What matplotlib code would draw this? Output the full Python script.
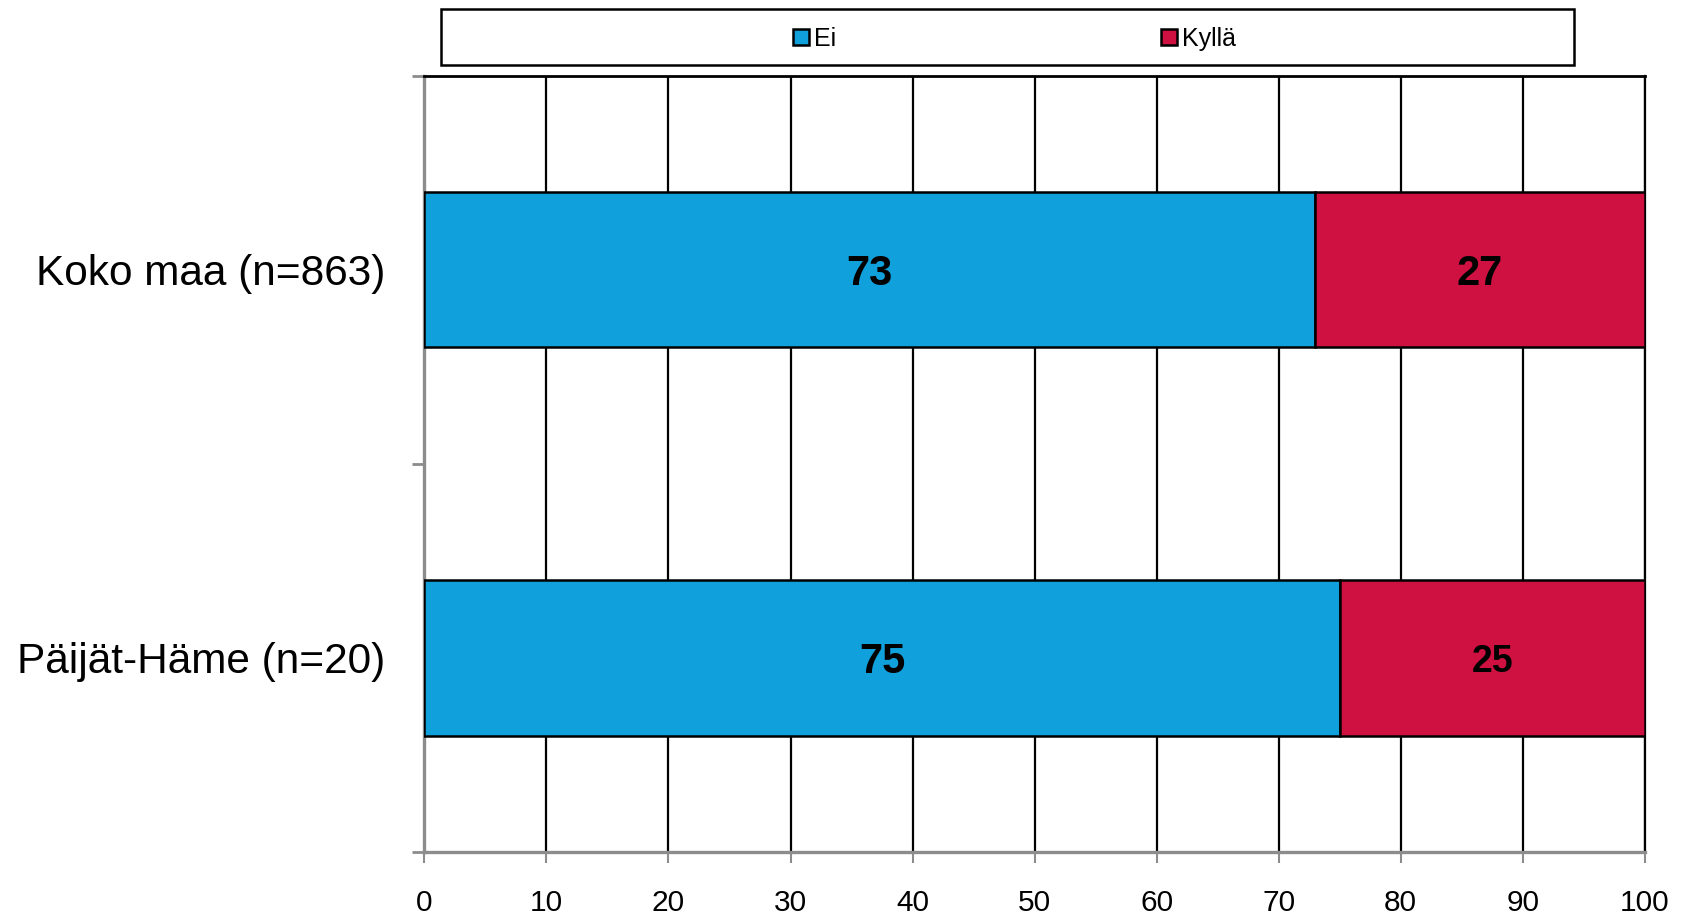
import matplotlib
matplotlib.use("Agg")
import matplotlib.pyplot as plt
from matplotlib.patches import Rectangle
from matplotlib import ticker

categories = ["Päijät-Häme (n=20)", "Koko maa (n=863)"]
series_names = ["Ei", "Kyllä"]
ei_values = [75, 73]
kylla_values = [25, 27]
x_ticks = [0, 10, 20, 30, 40, 50, 60, 70, 80, 90, 100]

blue = "#10A0DB"
red = "#CE1141"
grey = "#8C8C8C"

plt.rcParams["font.family"] = ["Liberation Sans", "DejaVu Sans"]

fig = plt.figure(figsize=(16.91, 9.24), dpi=100)
ax = fig.add_axes([0.251, 0.078, 0.7216, 0.840])

pos = list(range(len(categories)))
bars_ei = ax.barh(pos, ei_values, height=0.4, color=blue, edgecolor="black",
                  linewidth=1.8, label=series_names[0], zorder=3)
bars_ky = ax.barh(pos, kylla_values, left=ei_values, height=0.4, color=red,
                  edgecolor="black", linewidth=1.8, label=series_names[1], zorder=3)

# value labels in the middle of each segment
for i in pos:
    ax.text(ei_values[i] / 2, i, str(ei_values[i]), ha="center",
            va="center_baseline", fontsize=30, fontweight="bold", zorder=4)
    ax.text(ei_values[i] + kylla_values[i] / 2, i, str(kylla_values[i]),
            ha="center", va="center_baseline", fontsize=27 if i == 0 else 30,
            fontweight="bold", zorder=4)

ax.set_xlim(0, 100)
ax.set_ylim(-0.5, 1.5)

# vertical gridlines
for x in x_ticks[1:]:
    ax.axvline(x, color="black", linewidth=1.6, zorder=1)

ax.set_xticks(x_ticks)
ax.set_xticklabels([str(x) for x in x_ticks], fontsize=21.5)
ax.tick_params(axis="x", direction="out", length=8, width=1.5, color=grey, pad=19)

ax.set_yticks(pos)
ax.set_yticklabels(categories, fontsize=30.5)
ax.tick_params(axis="y", which="major", length=0, pad=28)
ax.yaxis.set_minor_locator(ticker.FixedLocator([-0.5, 0.5, 1.5]))
ax.tick_params(axis="y", which="minor", direction="out", length=9, width=2, color=grey)

for side in ["left", "bottom"]:
    ax.spines[side].set_color(grey)
    ax.spines[side].set_linewidth(2.4)
ax.spines["top"].set_color("black")
ax.spines["top"].set_linewidth(2)
ax.spines["right"].set_color("black")
ax.spines["right"].set_linewidth(1.6)

# legend box across the top
box = Rectangle((0.261, 0.9296), 0.670, 0.061, transform=fig.transFigure,
                facecolor="white", edgecolor="black", linewidth=1.8)
fig.patches.append(box)
fig.legend(handles=[bars_ei, bars_ky], labels=series_names, loc="center",
           bbox_to_anchor=(0.600, 0.958), ncol=2, frameon=False,
           handlelength=0.65, handleheight=0.65, handletextpad=0.2,
           columnspacing=13.0, prop={"size": 18})

fig.savefig("out.png", dpi=100)
